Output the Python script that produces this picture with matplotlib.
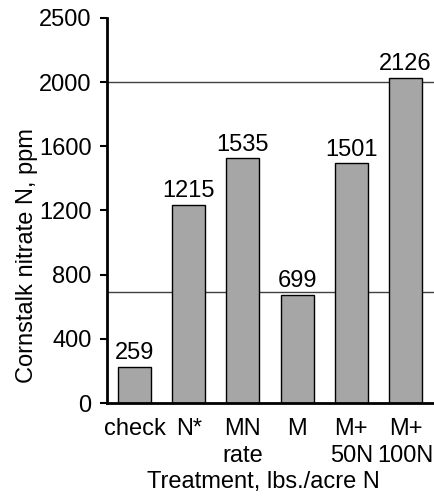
import matplotlib
matplotlib.use("Agg")
import matplotlib.pyplot as plt

categories = ["check", "N*", "MN\nrate", "M", "M+\n50N", "M+\n100N"]
bar_heights = [225, 1237, 1525, 675, 1494, 2025]
bar_labels = ["259", "1215", "1535", "699", "1501", "2126"]
ref_lines = [2000, 690]
y_ticks = [0, 400, 800, 1200, 1600, 2000, 2400]
y_tick_labels = ["0", "400", "800", "1200", "1600", "2000", "2500"]

plt.rcParams['font.family'] = ['Liberation Sans', 'DejaVu Sans']
FS = 17

fig = plt.figure(figsize=(4.34, 4.97), dpi=100)
ax = fig.add_axes([0.2465, 0.189, 0.7535, 0.775])

x = list(range(len(categories)))
for y in ref_lines:
    ax.axhline(y, color="#404040", linewidth=1.0, zorder=1)
bars = ax.bar(x, bar_heights, width=0.61, color="#a6a6a6", edgecolor="black",
              linewidth=1.0, zorder=2)
for b, lab in zip(bars, bar_labels):
    ax.annotate(lab, (b.get_x() + b.get_width() / 2, b.get_height()),
                xytext=(0, 2), textcoords="offset points",
                ha="center", va="bottom", fontsize=FS)

ax.set_xlim(-0.507, 5.526)
ax.set_ylim(0, 2400)
ax.set_yticks(y_ticks)
ax.set_yticklabels(y_tick_labels, fontsize=FS)
ax.set_xticks(x)
ax.set_xticklabels(categories, fontsize=FS, linespacing=1.3)
ax.tick_params(axis="x", length=0, pad=11)
ax.tick_params(axis="y", length=5, width=1.5, pad=6)

for s in ["top", "right"]:
    ax.spines[s].set_visible(False)
for s in ["left", "bottom"]:
    ax.spines[s].set_linewidth(2)

fig.text(0.062, 0.485, "Cornstalk nitrate N, ppm", rotation=90,
         ha="center", va="center", fontsize=FS)
fig.text(0.606, 0.03, "Treatment, lbs./acre N", ha="center", va="center",
         fontsize=FS)

fig.savefig("out.png", dpi=100)
